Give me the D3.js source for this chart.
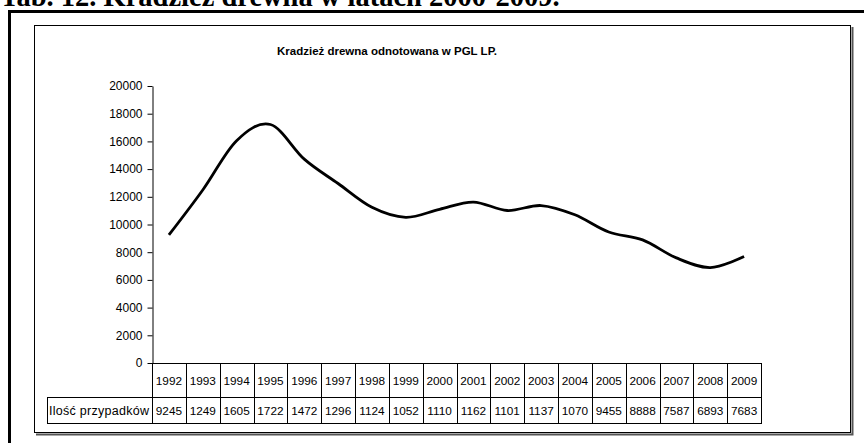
<!DOCTYPE html>
<html>
<head>
<meta charset="utf-8">
<script src="https://cdn.jsdelivr.net/npm/d3@7"></script>
<style>
  body { margin: 0; background: #fff; }
  svg text { font-family: "Liberation Sans", Arial, sans-serif; }
</style>
</head>
<body>
<svg id="chart" width="864" height="443"></svg>
<script>
// data
const years = ["1992", "1993", "1994", "1995", "1996", "1997", "1998", "1999", "2000",
  "2001", "2002", "2003", "2004", "2005", "2006", "2007", "2008", "2009"];
const counts = [9245, 12490, 16050, 17220, 14720, 12960, 11240, 10520, 11100,
  11620, 11010, 11370, 10700, 9455, 8888, 7587, 6893, 7683];
const yTicks = [0, 2000, 4000, 6000, 8000, 10000, 12000, 14000, 16000, 18000, 20000];
const rowLabel = "Ilość przypadków";
const chartTitle = "Kradzież drewna odnotowana w PGL LP.";
const pageHeading = "Tab. 12. Kradzież drewna w latach 2000-2009.";

const svg = d3.select("#chart");

// heading of the page, mostly cut off at the top
svg.append("text")
  .attr("x", 0)
  .attr("y", 6)
  .style("font-family", "'Liberation Serif', 'Times New Roman', serif")
  .style("font-weight", "bold")
  .style("font-size", "28.5px")
  .text(pageHeading);

// outer frame of the document table
svg.append("path")
  .attr("d", "M9.5,443 V11.5 H864")
  .attr("fill", "none")
  .attr("stroke", "#000")
  .attr("stroke-width", 3);

// chart area with its shadow
svg.append("path")
  .attr("d", "M852.5,27 V434.5 H36")
  .attr("fill", "none")
  .attr("stroke", "#555")
  .attr("stroke-width", 2);
svg.append("rect")
  .attr("x", 34.5).attr("y", 25.5)
  .attr("width", 816).attr("height", 407)
  .attr("fill", "#fff")
  .attr("stroke", "#000");

svg.append("text")
  .attr("x", 387)
  .attr("y", 55)
  .attr("text-anchor", "middle")
  .style("font-weight", "bold")
  .style("font-size", "11.5px")
  .text(chartTitle);

const x = d3.scaleBand().domain(years).range([152, 761]);
const y = d3.scaleLinear().domain([0, 20000]).range([363, 86]);

// value axis
svg.append("g")
  .attr("transform", "translate(152.5,0)")
  .call(d3.axisLeft(y).tickValues(yTicks).tickFormat(d3.format("d"))
    .tickSize(5).tickSizeOuter(0).tickPadding(5))
  .call(g => g.selectAll("line, path").attr("stroke", "#000"))
  .call(g => g.selectAll("text")
    .attr("fill", "#000")
    .style("font-family", "'Liberation Sans', Arial, sans-serif")
    .style("font-size", "12px"));

// smoothed line
const line = d3.line()
  .x((d, i) => x(years[i]) + x.bandwidth() / 2)
  .y(d => y(d))
  .curve(d3.curveCatmullRom.alpha(0));

svg.append("path")
  .datum(counts)
  .attr("d", line)
  .attr("fill", "none")
  .attr("stroke", "#000")
  .attr("stroke-width", 2.8)
  .attr("stroke-linejoin", "round");

// data table under the axis
const rowTop = 363, rowMid = 397, rowBottom = 423, labelLeft = 47;
const table = svg.append("g")
  .attr("stroke", "#000")
  .attr("fill", "none")
  .attr("shape-rendering", "crispEdges");

table.append("line")
  .attr("x1", 152).attr("x2", 761)
  .attr("y1", rowTop + 0.5).attr("y2", rowTop + 0.5);
table.append("line")
  .attr("x1", labelLeft).attr("x2", 761)
  .attr("y1", rowMid + 0.5).attr("y2", rowMid + 0.5);
table.append("line")
  .attr("x1", labelLeft).attr("x2", 761)
  .attr("y1", rowBottom + 0.5).attr("y2", rowBottom + 0.5);
table.append("line")
  .attr("x1", labelLeft + 0.5).attr("x2", labelLeft + 0.5)
  .attr("y1", rowMid).attr("y2", rowBottom + 1);
table.selectAll(".col")
  .data(years.concat(["end"]))
  .join("line")
  .attr("class", "col")
  .attr("x1", (d, i) => Math.round(152 + i * x.bandwidth()) + 0.5)
  .attr("x2", (d, i) => Math.round(152 + i * x.bandwidth()) + 0.5)
  .attr("y1", rowTop)
  .attr("y2", rowBottom + 1);

svg.selectAll(".year")
  .data(years)
  .join("text")
  .attr("class", "year")
  .attr("x", d => x(d) + x.bandwidth() / 2)
  .attr("y", 385)
  .attr("text-anchor", "middle")
  .style("font-size", "11.8px")
  .text(d => d);

// the narrow cells only show the first four digits
svg.selectAll(".val")
  .data(counts)
  .join("text")
  .attr("class", "val")
  .attr("x", (d, i) => x(years[i]) + x.bandwidth() / 2)
  .attr("y", 415)
  .attr("text-anchor", "middle")
  .style("font-size", "11.8px")
  .text(d => String(d).slice(0, 4));

svg.append("text")
  .attr("x", 49)
  .attr("y", 415)
  .style("font-size", "12.5px")
  .attr("textLength", 100)
  .text(rowLabel);
</script>
</body>
</html>
